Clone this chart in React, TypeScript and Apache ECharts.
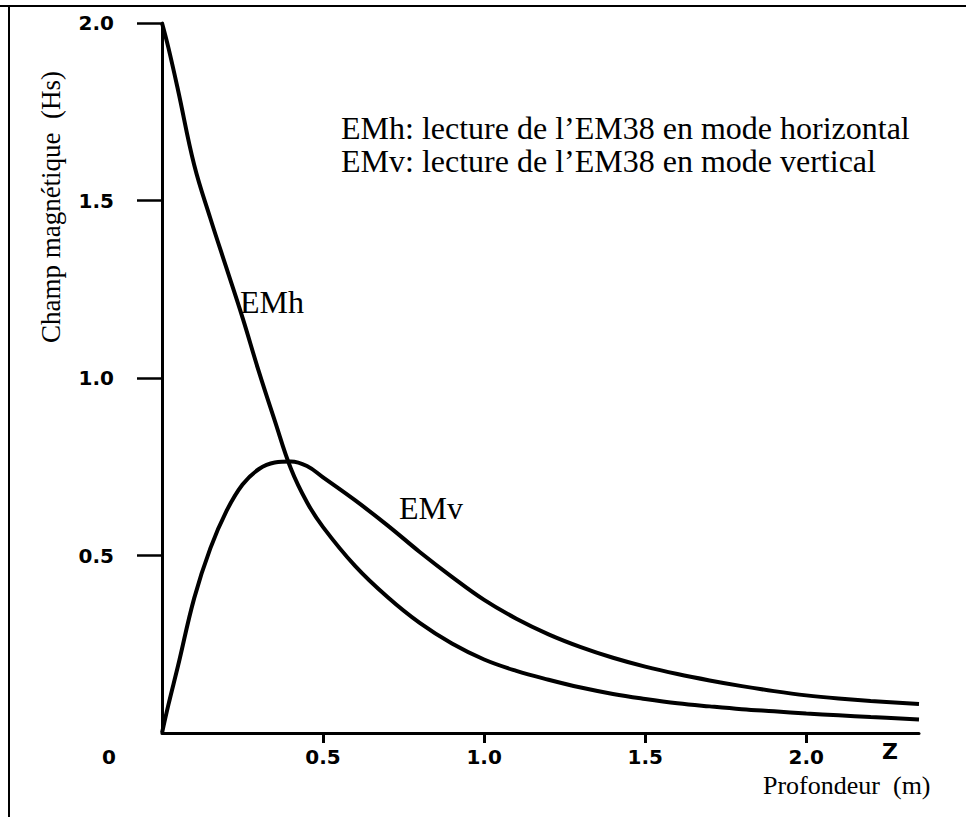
import React, { useEffect, useRef } from "react";
import * as echarts from "echarts";

// Depth (m) along the x axis
const depth = [0, 0.02, 0.05, 0.1, 0.15, 0.2, 0.25, 0.3, 0.35, 0.4, 0.45, 0.5, 0.6, 0.7, 0.8, 0.9, 1.0, 1.1, 1.2, 1.3, 1.4, 1.5, 1.6, 1.7, 1.8, 1.9, 2.0, 2.1, 2.2, 2.35];
// EMh: horizontal mode response
const emh = [2.0, 1.93, 1.81, 1.6, 1.45, 1.31, 1.17, 1.02, 0.88, 0.745, 0.65, 0.58, 0.47, 0.383, 0.31, 0.252, 0.207, 0.175, 0.15, 0.128, 0.11, 0.096, 0.084, 0.075, 0.067, 0.061, 0.055, 0.05, 0.045, 0.038];
// EMv: vertical mode response
const emv = [0, 0.08, 0.19, 0.38, 0.52, 0.625, 0.7, 0.743, 0.762, 0.765, 0.752, 0.72, 0.655, 0.585, 0.51, 0.44, 0.375, 0.322, 0.278, 0.242, 0.212, 0.187, 0.166, 0.148, 0.132, 0.118, 0.106, 0.097, 0.09, 0.082];

const xTicks = [0.5, 1.0, 1.5, 2.0];
const yTicks = [0.5, 1.0, 1.5, 2.0];

const seriesNames = ["EMh", "EMv"];
const noteLines = [
  "EMh: lecture de l\u2019EM38 en mode horizontal",
  "EMv: lecture de l\u2019EM38 en mode vertical",
];
const xTitle = "Profondeur  (m)";
const yTitle = "Champ magn\u00e9tique  (Hs)";

const serif = "'Liberation Serif', 'Times New Roman', serif";
const sans = "'DejaVu Sans', Verdana, sans-serif";

export default function App() {
  const ref = useRef<HTMLDivElement>(null);
  useEffect(() => {
    if (!ref.current) return;
    const chart = echarts.init(ref.current, undefined, { renderer: "svg" });
    const tickLabelStyle = {
      fontFamily: sans,
      fontWeight: "bold" as const,
      fontSize: 20,
      color: "#000",
    };
    chart.setOption({
      animation: false,
      backgroundColor: "#fff",
      grid: { left: 162, right: 47, top: 23, bottom: 84 },
      xAxis: {
        type: "value",
        min: 0,
        max: 2.35,
        interval: 0.5,
        axisLine: { show: true, onZero: false, lineStyle: { color: "#000", width: 3 } },
        axisTick: { show: true, length: 10, lineStyle: { color: "#000", width: 3 }, customValues: xTicks },
        axisLabel: {
          ...tickLabelStyle,
          margin: 14,
          customValues: xTicks,
          formatter: (v: number) => v.toFixed(1),
        },
        splitLine: { show: false },
      },
      yAxis: {
        type: "value",
        min: 0,
        max: 2,
        interval: 0.5,
        axisLine: { show: true, lineStyle: { color: "#000", width: 3 } },
        axisTick: { show: true, length: 25, lineStyle: { color: "#000", width: 2.5 }, customValues: yTicks },
        axisLabel: {
          ...tickLabelStyle,
          margin: 48,
          customValues: yTicks,
          formatter: (v: number) => v.toFixed(1),
        },
        splitLine: { show: false },
      },
      series: [
        {
          name: seriesNames[0],
          type: "line",
          data: depth.map((d, i) => [d, emh[i]]),
          smooth: 0.4,
          showSymbol: false,
          lineStyle: { color: "#000", width: 4 },
        },
        {
          name: seriesNames[1],
          type: "line",
          data: depth.map((d, i) => [d, emv[i]]),
          smooth: 0.4,
          showSymbol: false,
          lineStyle: { color: "#000", width: 4 },
        },
      ],
      graphic: [
        { type: "line", shape: { x1: 0, y1: 6, x2: 966, y2: 6 }, style: { stroke: "#000", lineWidth: 2 } },
        { type: "line", shape: { x1: 9, y1: 6, x2: 9, y2: 817 }, style: { stroke: "#000", lineWidth: 2 } },
        { type: "text", x: 109, y: 757, style: { text: "0", font: `bold 20px ${sans}`, fill: "#000", align: "center", verticalAlign: "middle" } },
        { type: "text", x: 890, y: 751, style: { text: "Z", font: `bold 22px ${sans}`, fill: "#000", align: "center", verticalAlign: "middle" } },
        { type: "text", x: 763, y: 785, style: { text: xTitle, font: `26px ${serif}`, fill: "#000", align: "left", verticalAlign: "middle" } },
        { type: "text", x: 51, y: 207, rotation: Math.PI / 2, style: { text: yTitle, font: `27px ${serif}`, fill: "#000", align: "center", verticalAlign: "middle" } },
        { type: "text", x: 341, y: 128, style: { text: noteLines[0], font: `32px ${serif}`, fill: "#000", align: "left", verticalAlign: "middle" } },
        { type: "text", x: 341, y: 161, style: { text: noteLines[1], font: `32px ${serif}`, fill: "#000", align: "left", verticalAlign: "middle" } },
        { type: "text", x: 240, y: 302, style: { text: seriesNames[0], font: `32px ${serif}`, fill: "#000", align: "left", verticalAlign: "middle" } },
        { type: "text", x: 399, y: 508, style: { text: seriesNames[1], font: `32px ${serif}`, fill: "#000", align: "left", verticalAlign: "middle" } },
      ],
    });
    return () => chart.dispose();
  }, []);
  return (
    <div
      ref={ref}
      style={{ position: "fixed", left: 0, top: 0, width: 966, height: 817, background: "#fff" }}
    />
  );
}
